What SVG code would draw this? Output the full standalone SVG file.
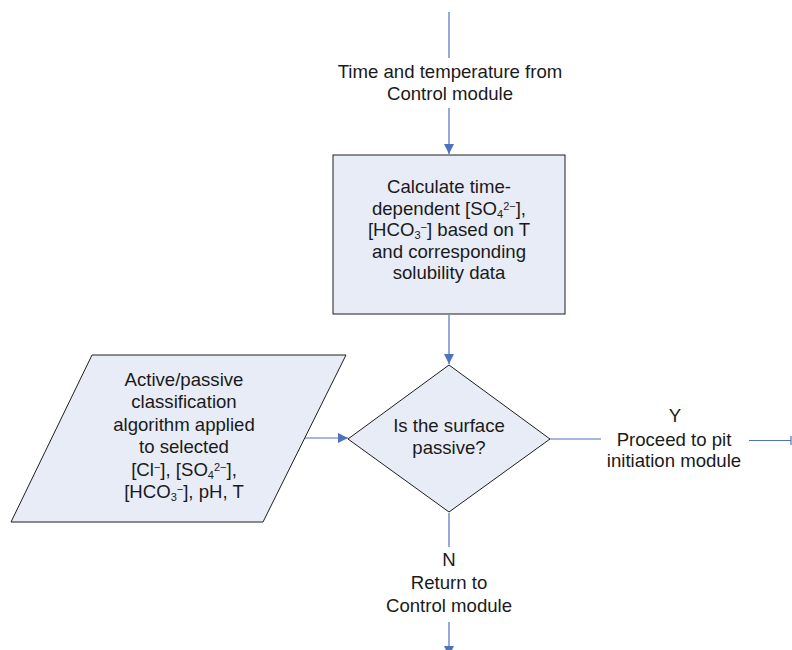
<svg xmlns="http://www.w3.org/2000/svg" width="792" height="650" viewBox="0 0 792 650">
  <style>
    text { font-family: "Liberation Sans", Arial, sans-serif; font-size: 18.6px; fill: #1a1a1a; text-anchor: middle; }
    .shape { fill: #e8ecf6; stroke: #1e1e1e; stroke-width: 1; }
    .conn { stroke: #4f72be; stroke-width: 1.2; fill: none; }
    .sub { font-size: 11px; baseline-shift: -3px; }
    .sup { font-size: 11px; baseline-shift: 5px; }
  </style>
  <defs>
    <marker id="arrow" viewBox="0 0 10 10" refX="10" refY="5" markerWidth="10" markerHeight="10" markerUnits="userSpaceOnUse" orient="auto">
      <path d="M0,0 L10,5 L0,10 z" fill="#4f72be"/>
    </marker>
  </defs>

  <!-- connectors -->
  <g id="connectors">
    <line class="conn" x1="449" y1="12" x2="449" y2="58"/>
    <line class="conn" x1="449" y1="108" x2="449" y2="154" marker-end="url(#arrow)"/>
    <line class="conn" x1="449" y1="315" x2="449" y2="364" marker-end="url(#arrow)"/>
    <line class="conn" x1="305" y1="438" x2="348" y2="438" marker-end="url(#arrow)"/>
    <line class="conn" x1="550" y1="439" x2="601" y2="439"/>
    <line class="conn" x1="749" y1="440.5" x2="791" y2="440.5"/>
    <line class="conn" x1="791" y1="436" x2="791" y2="445"/>
    <line class="conn" x1="449" y1="513" x2="449" y2="547"/>
    <line class="conn" x1="449" y1="622" x2="449" y2="656" marker-end="url(#arrow)"/>
  </g>

  <!-- incoming label -->
  <g id="input-label">
    <text x="450" y="78">Time and temperature from</text>
    <text x="450" y="100">Control module</text>
  </g>

  <!-- process box -->
  <g id="calc-box">
    <rect class="shape" x="333" y="155" width="232" height="159"/>
    <text x="449" y="193">Calculate time-</text>
    <text x="449" y="214.5">dependent [SO<tspan class="sub">4</tspan><tspan class="sup">2−</tspan>],</text>
    <text x="449" y="236">[HCO<tspan class="sub">3</tspan><tspan class="sup">−</tspan>] based on T</text>
    <text x="449" y="257.5">and corresponding</text>
    <text x="449" y="279">solubility data</text>
  </g>

  <!-- input data parallelogram -->
  <g id="classification-input">
    <polygon class="shape" points="92,355 346,355 263,522 11,522"/>
    <text x="184" y="386">Active/passive</text>
    <text x="184" y="408">classification</text>
    <text x="184" y="431">algorithm applied</text>
    <text x="184" y="453">to selected</text>
    <text x="184" y="475.5">[Cl<tspan class="sup">−</tspan>], [SO<tspan class="sub">4</tspan><tspan class="sup">2−</tspan>],</text>
    <text x="184" y="498">[HCO<tspan class="sub">3</tspan><tspan class="sup">−</tspan>], pH, T</text>
  </g>

  <!-- decision -->
  <g id="passive-decision">
    <polygon class="shape" points="449,365 550,439 449,512 348,439"/>
    <text x="449" y="432">Is the surface</text>
    <text x="449" y="454">passive?</text>
  </g>

  <!-- yes branch label -->
  <g id="yes-label">
    <text x="675" y="422">Y</text>
    <text x="674" y="446">Proceed to pit</text>
    <text x="674" y="467">initiation module</text>
  </g>

  <!-- no branch label -->
  <g id="no-label">
    <text x="449" y="566">N</text>
    <text x="449" y="589">Return to</text>
    <text x="449" y="612">Control module</text>
  </g>
</svg>
